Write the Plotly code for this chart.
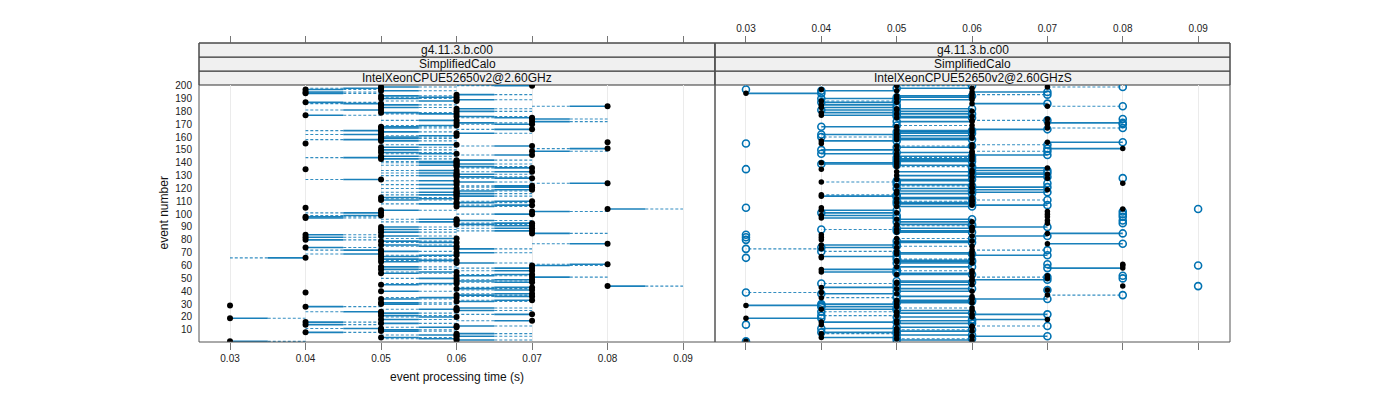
import plotly.graph_objects as go

# ---------------- data ----------------
events = list(range(1, 201))

# left panel: black dot time (ms) and the time its segment runs to
left_time_ms = [30,60,60,50,60,60,60,40,50,50, 50,60,60,40,50,40,70,50,30,60,
                50,70,50,50,60,60,60,40,30,50, 50,60,70,50,60,70,60,70,40,50,
                70,60,70,80,50,60,70,60,70,60, 70,60,70,50,60,70,50,70,50,70,
                80,60,50,60,50,40,50,60,50,60, 50,50,60,40,60,50,80,60,50,40,
                60,40,50,40,70,50,70,50,70,50, 70,60,70,60,60,60,40,40,50,70,
                50,70,50,80,40,60,70,60,60,70, 50,60,50,60,60,60,60,60,70,60,
                70,70,60,80,60,60,50,70,60,60, 60,60,70,60,40,70,60,60,60,60,
                60,60,50,50,50,70,60,50,70,50, 80,50,70,60,40,80,50,50,50,50,
                60,50,60,50,50,70,50,50,60,70, 60,70,60,70,70,60,40,60,50,60,
                50,60,50,80,50,50,40,60,60,50, 60,50,60,40,40,50,40,50,50,70]
left_target_ms = [40,70,50,60,70,50,70,50,60,60, 40,50,70,50,60,50,60,60,40,50,
                  60,60,60,40,70,50,70,50,30,60, 60,70,60,60,50,60,70,60,40,60,
                  60,70,60,90,60,50,60,70,60,50, 80,70,60,60,50,60,60,60,60,80,
                  70,70,60,50,60,30,60,50,40,70, 60,40,70,50,50,60,70,50,60,50,
                  50,50,60,50,80,60,60,60,60,60, 60,70,60,50,70,50,50,50,40,60,
                  40,80,60,90,40,70,60,50,70,60, 60,50,60,70,50,70,50,70,60,50,
                  60,60,50,70,70,50,40,60,70,50, 70,50,60,50,40,60,70,50,70,50,
                  50,70,60,40,60,60,50,60,80,60, 70,60,60,50,40,80,60,40,60,60,
                  50,40,70,60,40,60,60,60,50,60, 70,80,50,80,60,70,50,50,60,70,
                  40,70,60,70,60,40,50,50,70,60, 50,60,70,50,50,60,50,40,60,60]

# right panel: black dots, open circles, and the style of the segment between them
right_black_ms = [30,60,50,40,60,50,40,50,60,50, 50,60,60,40,50,40,50,70,30,60,
                  50,60,50,50,60,40,60,50,30,50, 60,50,50,60,40,60,70,50,40,60,
                  70,50,40,80,60,50,50,60,60,70, 60,70,50,60,40,60,40,80,50,80,
                  80,60,50,50,60,40,40,60,50,60, 50,60,40,50,60,40,70,50,60,40,
                  50,40,60,40,70,50,60,50,60,60, 50,50,70,60,70,50,40,70,40,70,
                  50,70,40,80,40,50,60,60,50,60, 60,50,60,40,40,50,60,50,70,60,
                  60,50,60,80,40,60,50,70,60,50, 70,60,50,60,40,70,50,60,50,40,
                  50,60,50,60,50,60,50,60,60,50, 80,60,50,60,40,70,40,50,60,50,
                  60,50,50,60,50,60,70,50,60,70, 70,60,60,70,50,60,40,50,40,60,
                  50,50,40,70,40,60,50,40,60,50, 60,50,60,30,60,50,40,60,70,50]
right_open_ms = [30,50,60,50,70,60,50,40,50,60, 40,50,70,30,60,50,60,60,40,50,
                 40,70,60,40,50,50,50,40,40,40, 50,60,60,70,50,50,80,40,30,50,
                 70,60,50,90,50,40,60,50,70,80, 70,80,60,50,50,50,50,70,60,90,
                 70,50,60,60,50,30,50,70,60,50, 40,70,30,40,50,50,80,60,50,30,
                 60,30,70,30,80,60,50,40,50,70, 60,60,80,50,80,60,50,80,50,80,
                 40,80,50,90,30,60,70,50,60,50, 70,60,50,50,50,60,70,60,60,50,
                 70,60,50,70,50,50,60,80,70,60, 60,70,60,70,30,60,60,50,40,50,
                 60,50,60,50,60,70,40,50,70,40, 70,50,60,70,30,80,50,60,50,40,
                 50,40,60,50,60,70,80,40,50,80, 80,50,70,80,60,50,50,60,50,50,
                 40,60,50,80,50,70,40,50,50,40, 50,60,70,40,70,40,30,50,80,60]
right_style_rows = [
    "nsdsssdssd",  # 1-10   (s = solid, d = dashed, n = no segment)
    "ssdnssssss",  # 11-20
    "dssdssdsss",  # 21-30
    "ssssdsdsds",  # 31-40
    "nssnsdsssn",  # 41-50
    "dnsssdsssn",  # 51-60
    "nsssdnssss",  # 61-70
    "dddsdssssn",  # 71-80
    "dnsnsssdss",  # 81-90
    "dsnsnssnsn",  # 91-100
    "snsnnssssd",  # 101-110
    "dsssdsssss",  # 111-120
    "sdsndssnss",  # 121-130
    "ssssnsdsss",  # 131-140
    "sssdssssds",  # 141-150
    "ssddnssssd",  # 151-160
    "ssssssdsdn",  # 161-170
    "ssdnssssss",  # 171-180
    "sssdsssdss",  # 181-190
    "ssdsssnsdd",  # 191-200
]
right_style = list("".join(right_style_rows))

x_ticks = [0.03, 0.04, 0.05, 0.06, 0.07, 0.08, 0.09]
x_tick_labels = ["0.03", "0.04", "0.05", "0.06", "0.07", "0.08", "0.09"]
y_ticks = list(range(10, 201, 10))
strip_left = ["IntelXeonCPUE52650v2@2.60GHz", "SimplifiedCalo", "g4.11.3.b.c00"]
strip_right = ["IntelXeonCPUE52650v2@2.60GHzS", "SimplifiedCalo", "g4.11.3.b.c00"]

# ---------------- layout geometry ----------------
BLUE = "#0072B2"
FONT = "Liberation Sans"
X_RANGE = [0.02589, 0.09423]
Y_RANGE = [0.5, 200.5]
W, H = 1400, 400
OFF = 8                      # page body margin
SX0, SX1, SY0, SY1 = 199, 1230, 43, 342   # target screen box (incl. strips)
ML, MT = SX0 - OFF, SY0 - OFF
MR = W - (SX1 - OFF)
MB = H - (SY1 - OFF)
PW = SX1 - SX0
PH = SY1 - SY0
DATA_H = 257
SPLIT = 516 / PW
YTOP = DATA_H / PH
STRIP = 14 / PH


def px(x):
    return (x - SX0) / PW


def py(y):
    return (SY1 - y) / PH


lt = [v / 1000 for v in left_time_ms]
la = [v / 1000 for v in left_target_ms]
rb = [v / 1000 for v in right_black_ms]
ro = [v / 1000 for v in right_open_ms]

# left segments: solid half near dot, dashed half toward target
ls_x, ls_y, ld_x, ld_y = [], [], [], []
for e, a, b in zip(events, lt, la):
    if a == b:
        continue
    m = (a + b) / 2
    ls_x += [a, m, None]; ls_y += [e, e, None]
    ld_x += [m, b, None]; ld_y += [e, e, None]

rs_x, rs_y, rd_x, rd_y = [], [], [], []
for e, a, b, s in zip(events, rb, ro, right_style):
    if s == "s":
        rs_x += [a, b, None]; rs_y += [e, e, None]
    elif s == "d":
        rd_x += [a, b, None]; rd_y += [e, e, None]

fig = go.Figure()
line_solid = dict(color="rgba(0,114,178,0.9)", width=1.6)
line_dash = dict(color="rgba(0,114,178,0.8)", width=1.1, dash="3px,2px")

fig.add_trace(go.Scatter(x=ld_x, y=ld_y, mode="lines", line=line_dash, xaxis="x", yaxis="y"))
fig.add_trace(go.Scatter(x=ls_x, y=ls_y, mode="lines", line=line_solid, xaxis="x", yaxis="y"))
fig.add_trace(go.Scatter(x=lt, y=events, mode="markers",
                         marker=dict(color="black", size=6), xaxis="x", yaxis="y"))

fig.add_trace(go.Scatter(x=rd_x, y=rd_y, mode="lines", line=line_dash, xaxis="x2", yaxis="y"))
fig.add_trace(go.Scatter(x=rs_x, y=rs_y, mode="lines", line=line_solid, xaxis="x2", yaxis="y"))
fig.add_trace(go.Scatter(x=ro, y=events, mode="markers",
                         marker=dict(symbol="circle-open", color=BLUE, size=7,
                                     line=dict(width=1.6, color=BLUE)),
                         xaxis="x2", yaxis="y"))
fig.add_trace(go.Scatter(x=rb, y=events, mode="markers",
                         marker=dict(color="black", size=5.5), xaxis="x2", yaxis="y"))
# invisible anchors for the top axes
fig.add_trace(go.Scatter(x=[None], y=[None], xaxis="x3", yaxis="y", showlegend=False))
fig.add_trace(go.Scatter(x=[None], y=[None], xaxis="x4", yaxis="y", showlegend=False))

tickfont = dict(family=FONT, size=10, color="#222")
common_x = dict(range=X_RANGE, tickvals=x_ticks, ticktext=x_tick_labels, ticks="outside",
                ticklen=7, tickcolor="#777", tickwidth=1, zeroline=False, showline=False,
                tickfont=tickfont, fixedrange=True)

fig.update_layout(
    width=W, height=H, showlegend=False,
    margin=dict(l=ML, r=MR, t=MT, b=MB, pad=0),
    paper_bgcolor="white", plot_bgcolor="white",
    xaxis=dict(domain=[0, SPLIT], anchor="y", side="bottom", showgrid=True,
               gridcolor="#ebebeb", gridwidth=1, automargin=False, **common_x),
    xaxis2=dict(domain=[SPLIT, 1], anchor="y", side="bottom", showgrid=True,
                gridcolor="#ebebeb", gridwidth=1, showticklabels=False,
                automargin=False, **common_x),
    xaxis3=dict(overlaying="x", anchor="free", position=1, side="top", showgrid=False,
                showticklabels=False, automargin=False, **common_x),
    xaxis4=dict(overlaying="x2", anchor="free", position=1, side="top", showgrid=False,
                automargin=False, **common_x),
    yaxis=dict(domain=[0, YTOP], range=Y_RANGE, anchor="x", tickvals=y_ticks,
               ticks="outside", ticklen=4, tickcolor="rgba(0,0,0,0)", showgrid=False,
               zeroline=False, showline=False, tickfont=tickfont, fixedrange=True,
               automargin=False),
)

shapes = []
for k in range(3):
    y0 = YTOP + k * STRIP
    for x0, x1 in [(0, SPLIT), (SPLIT, 1)]:
        shapes.append(dict(type="rect", xref="paper", yref="paper", x0=x0, x1=x1,
                           y0=y0, y1=y0 + STRIP, fillcolor="#f0f0f0",
                           line=dict(color="#333", width=1), layer="below"))
for x0, x1 in [(0, SPLIT), (SPLIT, 1)]:
    shapes.append(dict(type="rect", xref="paper", yref="paper", x0=x0, x1=x1, y0=0, y1=1,
                       line=dict(color="#555", width=1), fillcolor="rgba(0,0,0,0)"))
fig.update_layout(shapes=shapes)

ann = []
for k in range(3):
    yc = YTOP + (k + 0.5) * STRIP
    ann.append(dict(text=strip_left[k], x=SPLIT / 2, y=yc, xref="paper", yref="paper",
                    showarrow=False, font=dict(family=FONT, size=12, color="#111"),
                    xanchor="center", yanchor="middle"))
    ann.append(dict(text=strip_right[k], x=(SPLIT + 1) / 2, y=yc, xref="paper", yref="paper",
                    showarrow=False, font=dict(family=FONT, size=12, color="#111"),
                    xanchor="center", yanchor="middle"))
ann.append(dict(text="event number", x=px(163), y=py(213.5),
                xref="paper", yref="paper", showarrow=False, textangle=-90,
                font=dict(family=FONT, size=12, color="#111"),
                xanchor="center", yanchor="middle"))
ann.append(dict(text="event processing time (s)", x=px(457), y=py(377),
                xref="paper", yref="paper", showarrow=False,
                font=dict(family=FONT, size=12, color="#111"),
                xanchor="center", yanchor="middle"))
fig.update_layout(annotations=ann)

fig.write_html("out.html")
